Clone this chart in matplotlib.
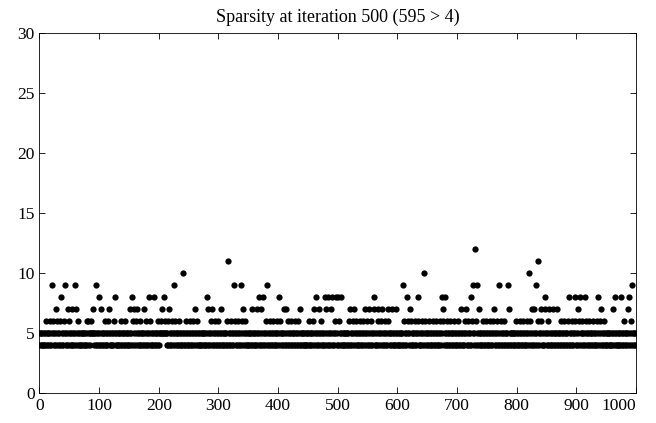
import numpy as np
import matplotlib.pyplot as plt

n_points = 1000
title = "Sparsity at iteration 500 (595 > 4)"

# isolated dots (index positions)
dots_12 = [730]
dots_11 = [316, 836]
dots_10 = [240, 645, 820]
dots_9 = [21, 42, 60, 94, 226, 326, 338, 381, 610, 726, 734, 771, 785, 832, 994]
dots_8 = [36, 99, 127, 155, 184, 192, 209, 281, 368, 374, 402, 463, 478, 484,
          490, 497, 500, 506, 560, 616, 634, 674, 680, 723, 848, 887, 897, 906,
          915, 936, 964, 975, 989]
dots_7 = [28, 47, 54, 61, 90, 103, 117, 152, 158, 163, 176, 205, 217, 260, 282,
          290, 304, 341, 357, 364, 371, 410, 413, 437, 461, 469, 480, 489, 520,
          528, 546, 553, 561, 568, 575, 584, 591, 598, 621, 676, 707, 715, 737,
          762, 787, 825, 829, 840, 847, 854, 861, 868, 902, 941, 961, 986]
dots_6 = [50, 64, 79, 125, 961]

# dense runs (start, stop) of the row at 6
runs_6 = [(11, 41), (81, 87), (103, 115), (137, 143), (156, 170), (179, 190),
          (198, 268), (282, 304), (315, 349), (380, 438), (452, 463), (472, 503),
          (519, 589), (611, 788), (799, 857), (874, 950), (980, 994)]
# stretches where the row at 4 is empty
gaps_4 = [(86, 91), (202, 211)]

run_step = 6

# build the sparsity per iteration: rows 4 and 5 share the remaining indices
sparsity = np.zeros(n_points, dtype=int)
for a, b in runs_6:
    sparsity[np.arange(a, b + 1, run_step)] = 6
sparsity[dots_6] = 6
for level, dots in [(7, dots_7), (8, dots_8), (9, dots_9), (10, dots_10),
                    (11, dots_11), (12, dots_12)]:
    sparsity[dots] = level

free = np.where(sparsity == 0)[0]
sparsity[free] = np.where(np.arange(len(free)) % 2 == 0, 4, 5)
for a, b in gaps_4:
    seg = np.arange(a, b + 1)
    seg = seg[sparsity[seg] == 4]
    sparsity[seg] = 5

x = np.arange(n_points)

plt.rcParams['font.family'] = ['Liberation Serif', 'DejaVu Serif']

fig = plt.figure(figsize=(6.56, 4.23), dpi=100)
ax = fig.add_axes([0.0602, 0.0709, 0.9093, 0.851])

ax.plot(x, sparsity, 'o', color='k', ms=4.5, mew=0)

ax.set_xlim(0, 1000)
ax.set_ylim(0, 30)
ax.set_xticks(np.arange(0, 1001, 100))
ax.set_yticks(np.arange(0, 31, 5))
ax.tick_params(direction='in', top=True, right=True, labelsize=12.5, length=4,
               width=0.6)
# last x label sits inside the figure, flush with the axis end
ax.get_xticklabels()[-1].set_horizontalalignment('right')
for s in ax.spines.values():
    s.set_linewidth(0.6)
ax.set_title(title, fontsize=13, pad=8)

plt.savefig('out.png', dpi=100)
plt.close()
